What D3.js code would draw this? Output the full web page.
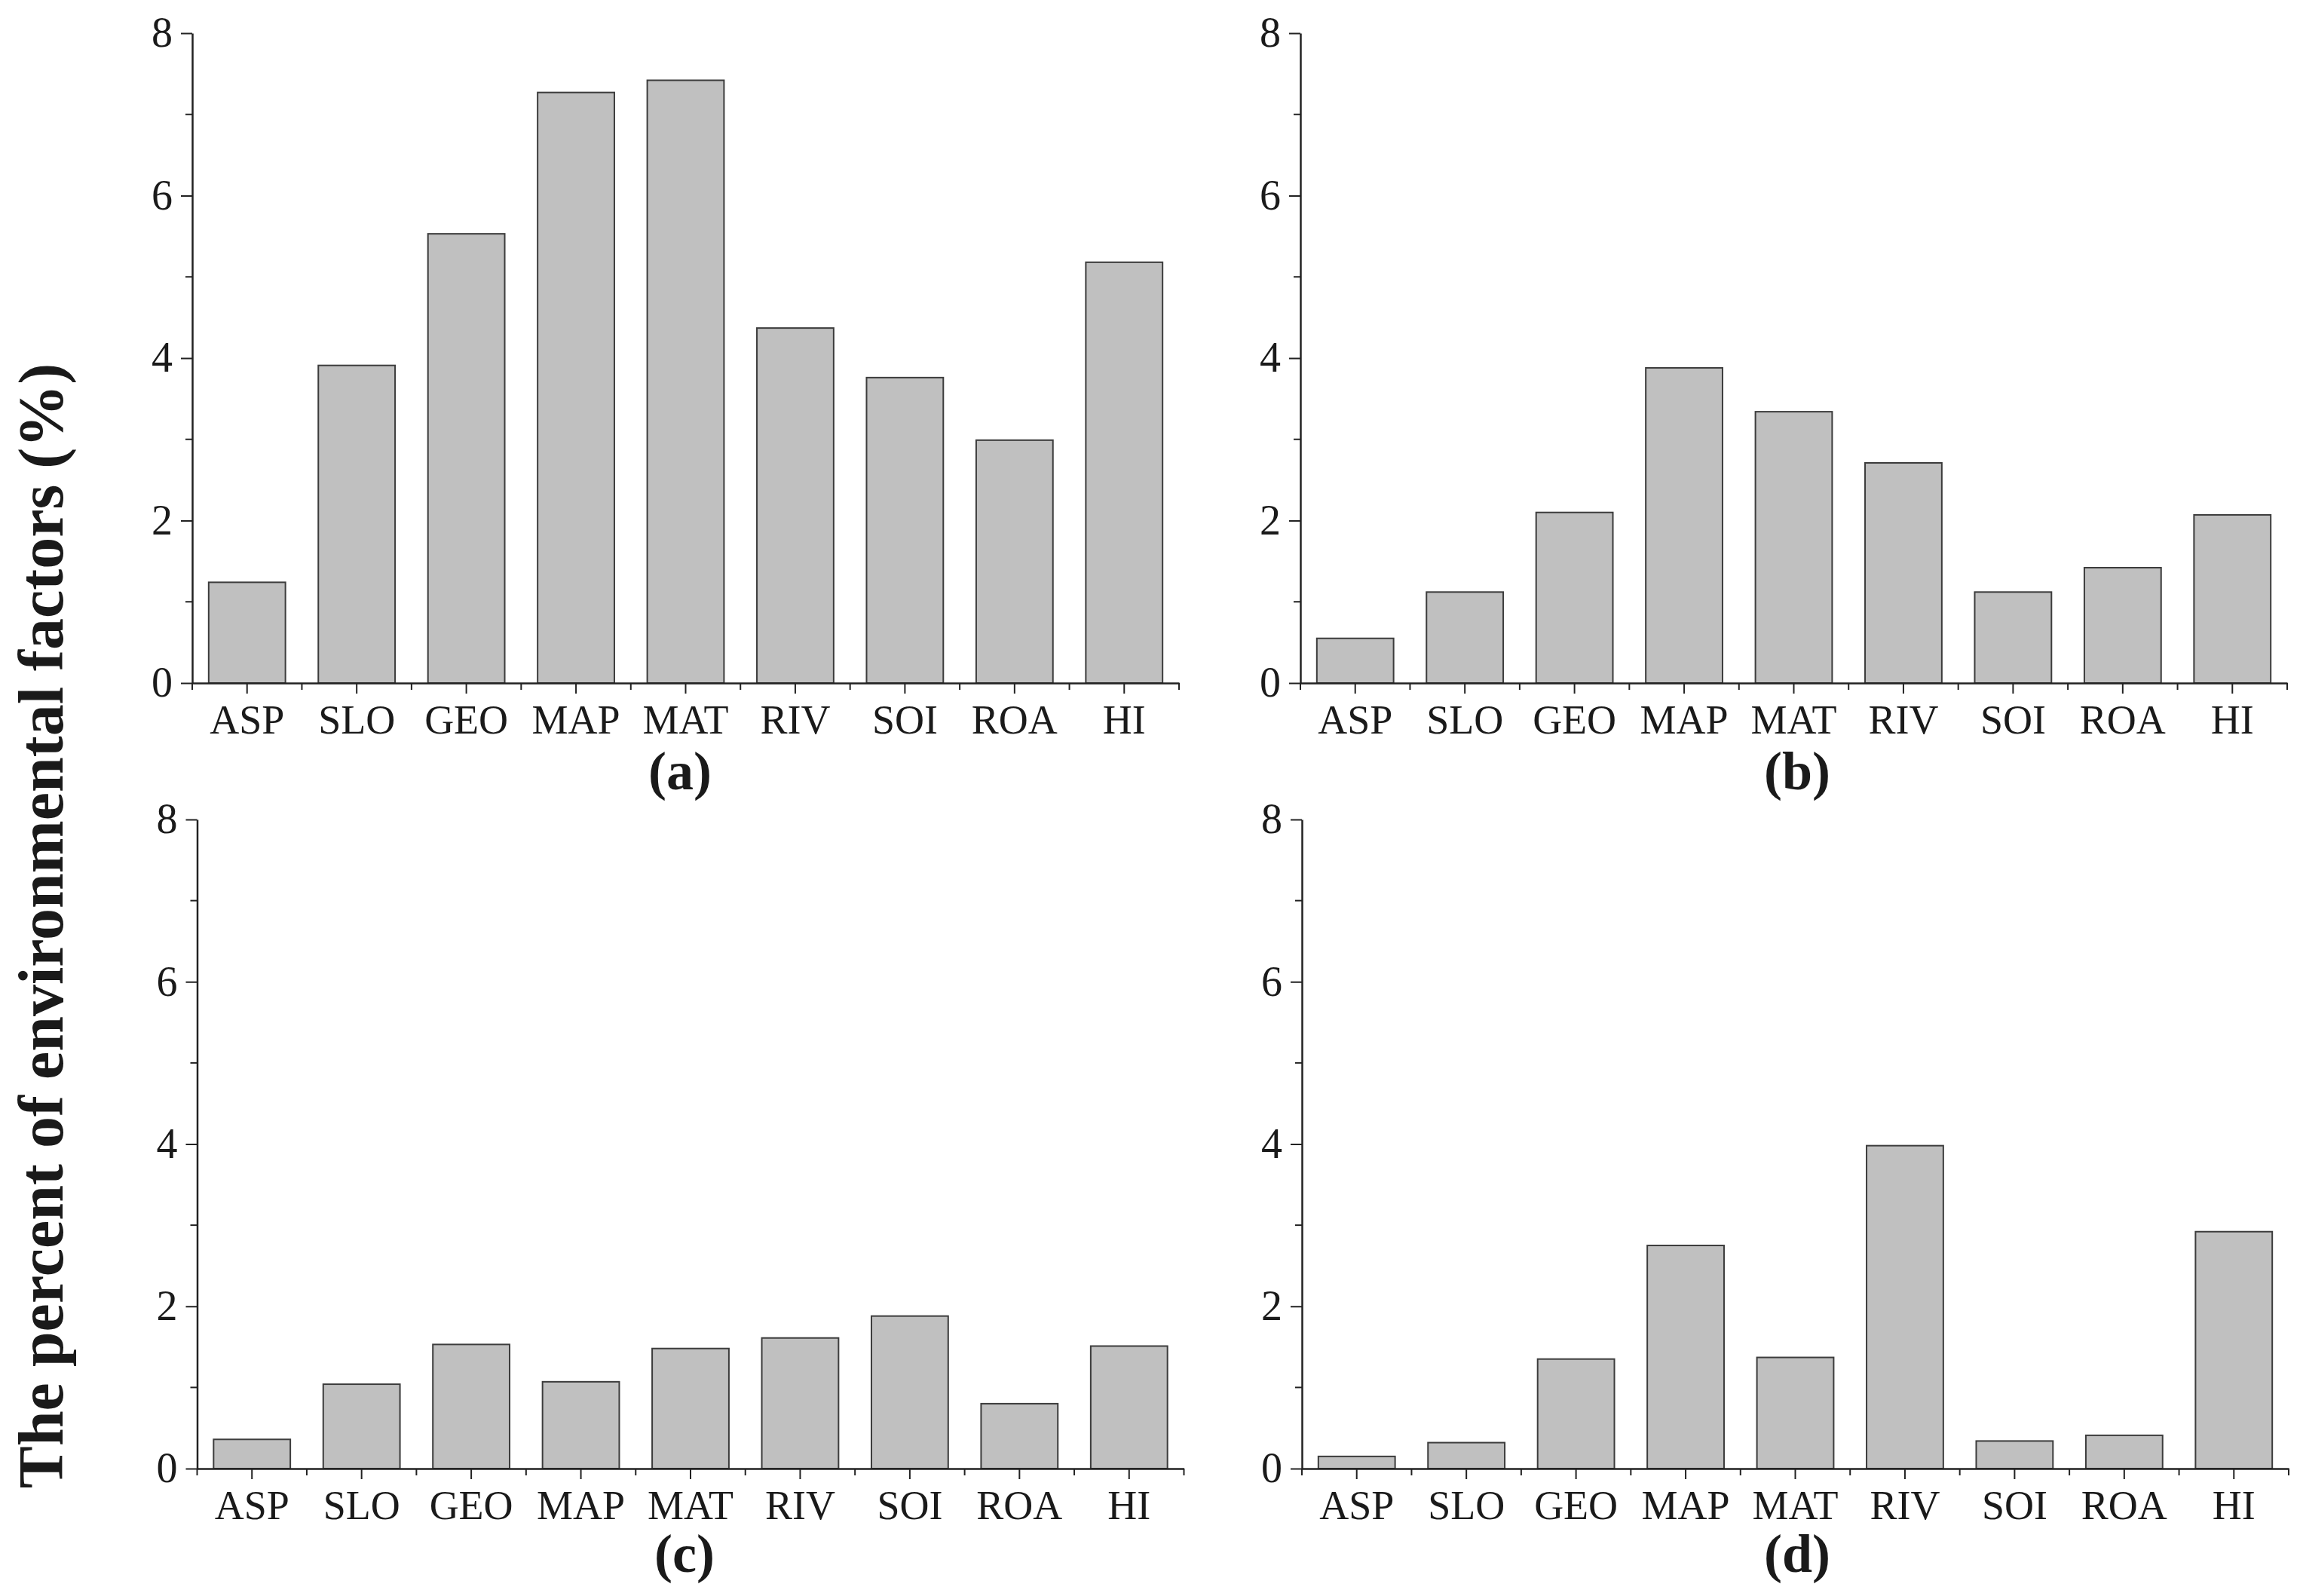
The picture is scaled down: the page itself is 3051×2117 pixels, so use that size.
<!DOCTYPE html>
<html>
<head>
<meta charset="utf-8">
<script src="https://cdn.jsdelivr.net/npm/d3@7"></script>
<style>
  html, body { margin: 0; padding: 0; background: #fff; }
  svg { display: block; }
  .axis text { font-family: "Liberation Serif", "Times New Roman", serif; fill: #1a1a1a; }
</style>
</head>
<body>
<svg id="chart" width="3051" height="2117"></svg>
<script>
// ---- data ----
const categories = ["ASP", "SLO", "GEO", "MAP", "MAT", "RIV", "SOI", "ROA", "HI"];
const valuesA = [1.24, 3.91, 5.53, 7.27, 7.42, 4.37, 3.76, 2.99, 5.18];
const valuesB = [0.55, 1.12, 2.10, 3.88, 3.34, 2.71, 1.12, 1.42, 2.07];
const valuesC = [0.36, 1.04, 1.53, 1.07, 1.48, 1.61, 1.88, 0.80, 1.51];
const valuesD = [0.15, 0.32, 1.35, 2.75, 1.37, 3.98, 0.34, 0.41, 2.92];
const panelLabels = ["(a)", "(b)", "(c)", "(d)"];
const yMajorTicks = [0, 2, 4, 6, 8];
const yMinorTicks = [1, 3, 5, 7];
const yLabel = "The percent of environmental factors (%)";

// ---- layout ----
const svg = d3.select("#chart");
svg.append("rect").attr("width", 3051).attr("height", 2117).attr("fill", "#fff");

const panels = [
  { values: valuesA, label: panelLabels[0], x0: 255,   top: 44,   bottom: 906,  labelX: 902,  labelY: 1047 },
  { values: valuesB, label: panelLabels[1], x0: 1725,  top: 44,   bottom: 906,  labelX: 2384, labelY: 1047 },
  { values: valuesC, label: panelLabels[2], x0: 261.5, top: 1087, bottom: 1948, labelX: 908,  labelY: 2085 },
  { values: valuesD, label: panelLabels[3], x0: 1727,  top: 1087, bottom: 1948, labelX: 2384, labelY: 2085 }
];
const plotWidth = 1309;
const axisColor = "#222";

panels.forEach(p => {
  const g = svg.append("g");
  const x = d3.scaleBand().domain(categories)
    .range([p.x0, p.x0 + plotWidth])
    .paddingInner(0.3).paddingOuter(0.15);
  const y = d3.scaleLinear().domain([0, 8]).range([p.bottom, p.top]);

  // bars
  g.selectAll("rect.bar").data(categories.map((c, i) => ({ c, v: p.values[i] })))
    .enter().append("rect")
    .attr("class", "bar")
    .attr("x", d => x(d.c))
    .attr("width", x.bandwidth())
    .attr("y", d => y(d.v))
    .attr("height", d => y(0) - y(d.v))
    .attr("fill", "#c0c0c0")
    .attr("stroke", "#3c3c3c")
    .attr("stroke-width", 2);

  // x minor ticks at band boundaries
  const step = x.step();
  const boundaries = d3.range(categories.length + 1).map(k => p.x0 + k * step);
  g.selectAll("line.xminor").data(boundaries).enter().append("line")
    .attr("x1", d => d).attr("x2", d => d)
    .attr("y1", p.bottom).attr("y2", p.bottom + 9)
    .attr("stroke", axisColor).attr("stroke-width", 2);

  // x axis
  const xAxis = g.append("g").attr("class", "axis")
    .attr("transform", `translate(0,${p.bottom})`)
    .call(d3.axisBottom(x).tickSize(14).tickSizeOuter(0).tickPadding(15));
  xAxis.select(".domain").attr("stroke", axisColor).attr("stroke-width", 2.5);
  xAxis.selectAll(".tick line").attr("stroke", axisColor).attr("stroke-width", 2);
  xAxis.selectAll(".tick text").attr("font-size", 54);

  // y minor ticks
  g.selectAll("line.yminor").data(yMinorTicks).enter().append("line")
    .attr("x1", p.x0 - 9).attr("x2", p.x0)
    .attr("y1", d => y(d)).attr("y2", d => y(d))
    .attr("stroke", axisColor).attr("stroke-width", 2);

  // y axis
  const yAxis = g.append("g").attr("class", "axis")
    .attr("transform", `translate(${p.x0},0)`)
    .call(d3.axisLeft(y).tickValues(yMajorTicks).tickFormat(d3.format("d"))
      .tickSize(15).tickSizeOuter(0).tickPadding(11));
  yAxis.select(".domain").attr("stroke", axisColor).attr("stroke-width", 2.5);
  yAxis.selectAll(".tick line").attr("stroke", axisColor).attr("stroke-width", 2);
  yAxis.selectAll(".tick text").attr("font-size", 56);

  // panel label
  g.append("text")
    .attr("x", p.labelX).attr("y", p.labelY)
    .attr("text-anchor", "middle")
    .attr("font-family", "'Liberation Serif', 'Times New Roman', serif")
    .attr("font-weight", "bold")
    .attr("font-size", 72)
    .attr("fill", "#1a1a1a")
    .text(p.label);
});

// shared y label
svg.append("text")
  .attr("transform", "translate(83,1228) rotate(-90)")
  .attr("text-anchor", "middle")
  .attr("font-family", "'Liberation Serif', 'Times New Roman', serif")
  .attr("font-weight", "bold")
  .attr("font-size", 84)
  .attr("fill", "#1a1a1a")
  .text(yLabel);
</script>
</body>
</html>
